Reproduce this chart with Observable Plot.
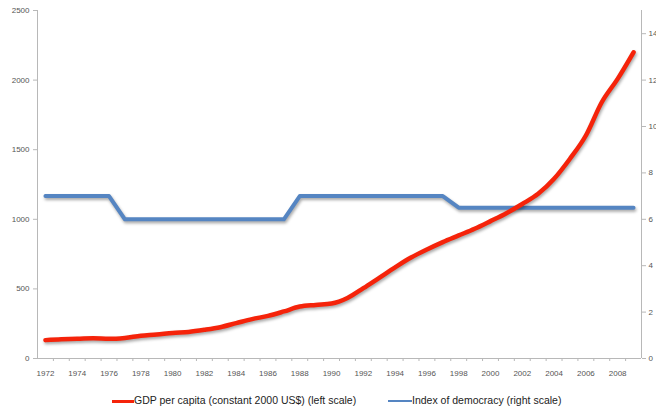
<!DOCTYPE html>
<html>
<head>
<meta charset="utf-8">
<script src="https://cdn.jsdelivr.net/npm/d3@7"></script>
<script src="https://cdn.jsdelivr.net/npm/@observablehq/plot@0.6"></script>
<style>
  html, body { margin: 0; padding: 0; background: #fff; }
  #chart svg { display: block; }
  #chart g[aria-label="line"] path { filter: drop-shadow(1px 2px 1.5px rgba(0,0,0,0.35)); }
  #legend { position: relative; width: 656px; height: 27px; font-family: "Liberation Sans Narrow", "Liberation Sans", sans-serif; font-size: 10.5px; color: #222; }
  #legend .sw { position: absolute; top: 12px; }
  #legend .tx { position: absolute; top: 6px; white-space: nowrap; }
</style>
</head>
<body>
<div id="chart"></div>
<div id="legend"></div>
<script>
const years = [1972,1973,1974,1975,1976,1977,1978,1979,1980,1981,1982,1983,1984,1985,1986,1987,1988,1989,1990,1991,1992,1993,1994,1995,1996,1997,1998,1999,2000,2001,2002,2003,2004,2005,2006,2007,2008,2009];
const gdpPerCapita = [132,139,141,146,141,148,163,172,184,191,206,225,254,283,306,338,373,385,395,435,505,580,655,725,783,836,884,932,987,1044,1110,1183,1291,1435,1602,1841,2009,2200];
const democracyIndex = [7,7,7,7,7,6,6,6,6,6,6,6,6,6,6,6,7,7,7,7,7,7,7,7,7,7,6.5,6.5,6.5,6.5,6.5,6.5,6.5,6.5,6.5,6.5,6.5,6.5];
const leftTicks = [0,500,1000,1500,2000,2500];
const rightTicks = [0,2,4,6,8,10,12,14];
const xLabelYears = [1972,1974,1976,1978,1980,1982,1984,1986,1988,1990,1992,1994,1996,1998,2000,2002,2004,2006,2008];
const seriesNames = ["GDP per capita (constant 2000 US$) (left scale)", "Index of democracy (right scale)"];
const leftMax = 2500, rightMax = 15;

const k = leftMax / rightMax;
const gdpData = years.map((y, i) => ({year: y, value: gdpPerCapita[i]}));
const demData = years.map((y, i) => ({year: y, value: democracyIndex[i] * k}));
const xMin = years[0] - 0.5, xMax = years[years.length - 1] + 0.5;
const bounds = years.slice(0, -1).map(y => y + 0.5);

const axisColor = "#b8b8b8";
const labelColor = "#555";
const red = "#f5230a", blue = "#5585c2";

const chart = Plot.plot({
  width: 656,
  height: 388,
  marginLeft: 37,
  marginRight: 15,
  marginTop: 10,
  marginBottom: 30,
  style: {fontFamily: "'Liberation Sans Narrow', 'Liberation Sans', sans-serif", fontSize: "8px", color: labelColor, background: "#fff"},
  x: {domain: [xMin, xMax]},
  y: {domain: [0, leftMax]},
  marks: [
    Plot.ruleX([xMin], {stroke: axisColor}),
    Plot.ruleX([xMax], {stroke: axisColor}),
    Plot.ruleY([0], {stroke: axisColor}),
    Plot.axisY({anchor: "left", ticks: leftTicks, tickSize: 4, tickPadding: 4, stroke: axisColor, fill: labelColor, label: null, tickFormat: d => String(d)}),
    Plot.axisY({anchor: "right", ticks: rightTicks.map(v => v * k), tickSize: 4, tickPadding: 3, stroke: axisColor, fill: labelColor, label: null, tickFormat: d => String(Math.round(d / k))}),
    Plot.axisX({ticks: bounds, tickSize: 3, tickFormat: () => "", stroke: axisColor, label: null}),
    Plot.axisX({ticks: xLabelYears, tickSize: 0, tickPadding: 12, tickFormat: d => String(d), fill: labelColor, label: null}),
    Plot.line(demData, {x: "year", y: "value", stroke: blue, strokeWidth: 4, strokeLinejoin: "round", strokeLinecap: "round"}),
    Plot.line(gdpData, {x: "year", y: "value", stroke: red, strokeWidth: 4.5, curve: "monotone-x", strokeLinejoin: "round", strokeLinecap: "round"})
  ]
});
document.getElementById("chart").appendChild(chart);

const legend = document.getElementById("legend");
const items = [
  {name: seriesNames[0], color: red, sw: 112, swW: 22, swH: 3, tx: 134},
  {name: seriesNames[1], color: blue, sw: 388, swW: 24, swH: 2, tx: 412}
];
for (const it of items) {
  const s = document.createElement("div");
  s.className = "sw";
  s.style.left = it.sw + "px";
  s.style.width = it.swW + "px";
  s.style.height = it.swH + "px";
  s.style.background = it.color;
  legend.appendChild(s);
  const t = document.createElement("div");
  t.className = "tx";
  t.style.left = it.tx + "px";
  t.textContent = it.name;
  legend.appendChild(t);
}
</script>
</body>
</html>
